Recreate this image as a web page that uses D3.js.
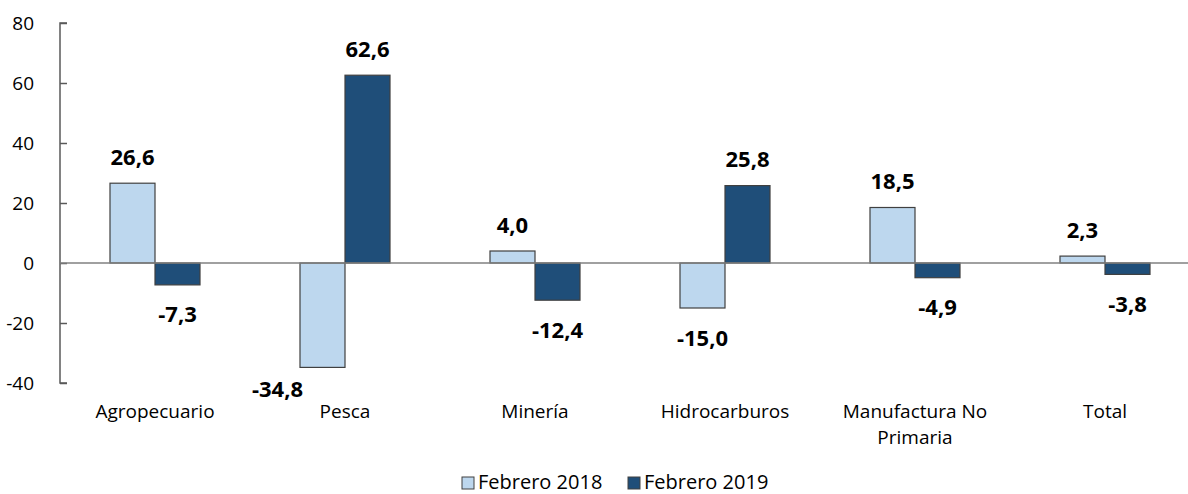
<!DOCTYPE html>
<html>
<head>
<meta charset="utf-8">
<script src="https://cdn.jsdelivr.net/npm/d3@7"></script>
<style>
  html, body { margin: 0; padding: 0; background: #fff; }
  svg { display: block; }
  text { font-family: "Open Sans", sans-serif; fill: #000; }
</style>
</head>
<body>
<svg id="chart" width="1188" height="494"></svg>
<script>
const categories = ["Agropecuario", "Pesca", "Minería", "Hidrocarburos", "Manufactura No Primaria", "Total"];
const categoryLines = [["Agropecuario"], ["Pesca"], ["Minería"], ["Hidrocarburos"], ["Manufactura No", "Primaria"], ["Total"]];
const seriesNames = ["Febrero 2018", "Febrero 2019"];
const feb2018 = [26.6, -34.8, 4.0, -15.0, 18.5, 2.3];
const feb2019 = [-7.3, 62.6, -12.4, 25.8, -4.9, -3.8];
const yTicks = [-40, -20, 0, 20, 40, 60, 80];
const colors = ["#BDD7EE", "#1F4E79"];

const svg = d3.select("#chart");
const W = 1188, H = 494;

const x0 = d3.scaleBand().domain(categories).range([60, 1200]).padding(0);
const x1 = d3.scaleBand().domain(seriesNames).range([0, x0.bandwidth()]).paddingInner(0).paddingOuter(1.111);
const y = d3.scaleLinear().domain([-40, 80]).range([383, 23]);

const fmt = v => d3.format(".1f")(v).replace(".", ",").replace("−", "-");

// Y axis
const yAxis = d3.axisLeft(y).tickValues(yTicks).tickSize(-7).tickPadding(26).tickFormat(d => d);
const gy = svg.append("g").attr("transform", "translate(60,0)").call(yAxis);
gy.select(".domain").attr("stroke", "#595959").attr("stroke-width", 1.5).attr("d", `M7,${y(80)}H0V${y(-40)}H7`);
gy.selectAll(".tick line").attr("stroke", "#595959").attr("stroke-width", 1.5);
gy.selectAll(".tick text").attr("font-family", "Open Sans, sans-serif").attr("font-size", 19).attr("fill", "#000").text(d => d < 0 ? "-" + Math.abs(d) : d);

// Bars
const data = categories.map((c, i) => ({ cat: c, vals: [feb2018[i], feb2019[i]] }));
const groups = svg.append("g").selectAll("g").data(data).join("g")
  .attr("transform", d => `translate(${x0(d.cat)},0)`);

groups.selectAll("rect").data(d => d.vals.map((v, k) => ({ s: seriesNames[k], v, k }))).join("rect")
  .attr("x", d => x1(d.s))
  .attr("width", x1.bandwidth())
  .attr("y", d => y(Math.max(0, d.v)))
  .attr("height", d => Math.abs(y(d.v) - y(0)))
  .attr("fill", d => colors[d.k])
  .attr("stroke", "#404040")
  .attr("stroke-width", 1.2);

// Zero line
svg.append("line")
  .attr("x1", 60).attr("x2", W)
  .attr("y1", y(0)).attr("y2", y(0))
  .attr("stroke", "#808080").attr("stroke-width", 1.5);

// Data labels
groups.selectAll("text.lbl").data(d => d.vals.map((v, k) => ({ s: seriesNames[k], v, k }))).join("text")
  .attr("class", "lbl")
  .attr("text-anchor", "middle")
  .attr("font-size", 22)
  .attr("font-weight", "bold")
  .each(function(d) {
    let cx = x1(d.s) + x1.bandwidth() / 2;
    let by = d.v >= 0 ? y(d.v) - 18.5 : y(d.v) + 37.5;
    // avoid collision with category labels
    if (by > 385) { cx -= x1.bandwidth(); by -= 8; }
    d3.select(this).attr("x", cx).attr("y", by);
  })
  .text(d => fmt(d.v));

// Category labels
const catG = svg.append("g");
categories.forEach((c, i) => {
  const t = catG.append("text")
    .attr("x", x0(c) + x0.bandwidth() / 2)
    .attr("y", 418)
    .attr("text-anchor", "middle")
    .attr("font-size", 19);
  categoryLines[i].forEach((ln, j) => {
    t.append("tspan").attr("x", x0(c) + x0.bandwidth() / 2).attr("dy", j === 0 ? 0 : 26).text(ln);
  });
});

// Legend
const legend = svg.append("g");
const legX = [462, 628];
seriesNames.forEach((s, k) => {
  legend.append("rect")
    .attr("x", legX[k]).attr("y", 477)
    .attr("width", 12).attr("height", 12)
    .attr("fill", colors[k]).attr("stroke", "#404040").attr("stroke-width", 1);
  legend.append("text")
    .attr("x", legX[k] + 16).attr("y", 489)
    .attr("font-size", 20)
    .text(s);
});
</script>
</body>
</html>
